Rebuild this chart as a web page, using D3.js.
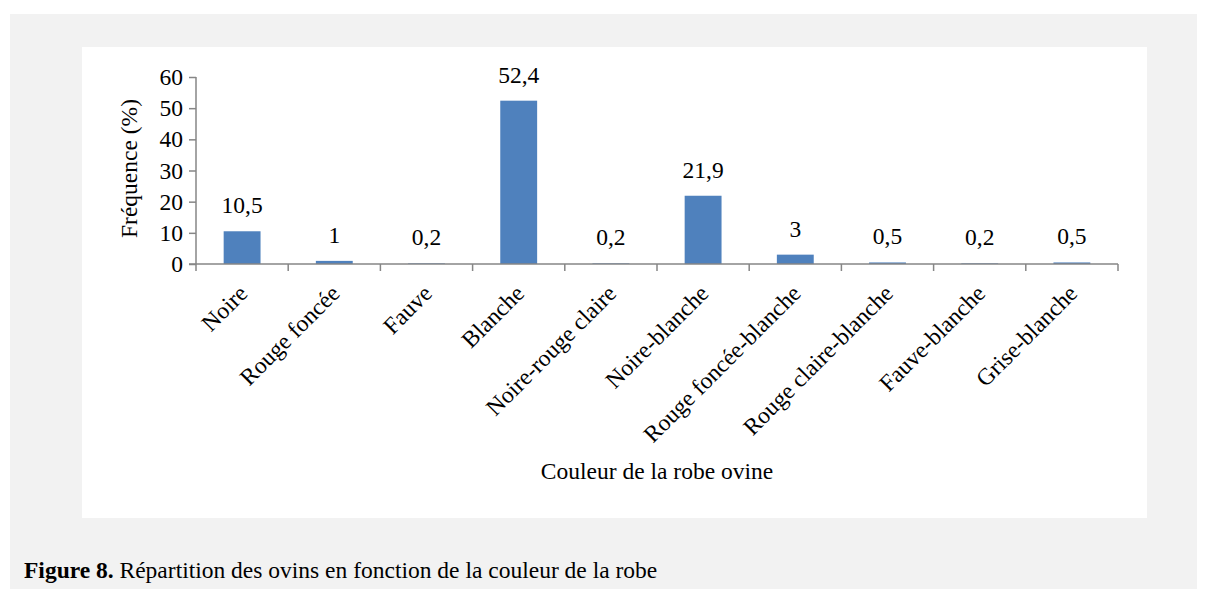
<!DOCTYPE html>
<html>
<head>
<meta charset="utf-8">
<script src="https://cdn.jsdelivr.net/npm/d3@7"></script>
<style>
  body { margin: 0; background: #fff; }
  svg { display: block; }
</style>
</head>
<body>
<script>
const categories = ["Noire", "Rouge foncée", "Fauve", "Blanche", "Noire-rouge claire",
  "Noire-blanche", "Rouge foncée-blanche", "Rouge claire-blanche", "Fauve-blanche", "Grise-blanche"];
const values = [10.5, 1, 0.2, 52.4, 0.2, 21.9, 3, 0.5, 0.2, 0.5];
const yTicks = [0, 10, 20, 30, 40, 50, 60];

const W = 1209, H = 589;
const plot = { left: 196, right: 1118, top: 77, bottom: 264 };
const font = "'Liberation Serif', 'Times New Roman', serif";
const fs = "23.5px";
const axisColor = "#868686";

const svg = d3.select("body").append("svg").attr("width", W).attr("height", H);

// backgrounds
svg.append("rect").attr("x", 10).attr("y", 14).attr("width", 1187).attr("height", 575).attr("fill", "#f2f2f2");
svg.append("rect").attr("x", 82).attr("y", 47).attr("width", 1065).attr("height", 471).attr("fill", "#fff");

const x = d3.scaleBand().domain(categories).range([plot.left, plot.right]).paddingInner(0.6).paddingOuter(0.3);
const xEdges = d3.scaleLinear().domain([0, categories.length]).range([plot.left, plot.right]);
const y = d3.scaleLinear().domain([0, 60]).range([plot.bottom, plot.top]);

const g = svg.append("g");

// bars
g.selectAll("rect.bar")
  .data(values)
  .enter()
  .append("rect")
  .attr("class", "bar")
  .attr("x", (d, i) => x(categories[i]))
  .attr("width", x.bandwidth())
  .attr("y", (d) => y(d))
  .attr("height", (d) => y(0) - y(d))
  .attr("fill", "#4f81bd");

// value labels
g.selectAll("text.val")
  .data(values)
  .enter()
  .append("text")
  .attr("x", (d, i) => x(categories[i]) + x.bandwidth() / 2)
  .attr("y", (d) => y(d) - 18)
  .attr("text-anchor", "middle")
  .attr("font-family", font)
  .attr("font-size", fs)
  .attr("fill", "#000")
  .text((d) => String(d).replace(".", ","));

// y axis
const yAxis = d3.axisLeft(y).tickValues(yTicks).tickSize(7).tickPadding(6);
const yg = svg.append("g").attr("transform", `translate(${plot.left},0)`).call(yAxis);
yg.select(".domain").attr("stroke", axisColor).attr("stroke-width", 1.5).attr("d", `M0,${plot.top}V${plot.bottom}`);
yg.selectAll(".tick line").attr("stroke", axisColor).attr("stroke-width", 1.5);
yg.selectAll(".tick text").attr("font-family", font).attr("font-size", fs).attr("fill", "#000");

// x axis
const xg = svg.append("g");
xg.append("line")
  .attr("x1", plot.left - 7).attr("x2", plot.right)
  .attr("y1", plot.bottom).attr("y2", plot.bottom)
  .attr("stroke", axisColor).attr("stroke-width", 1.5);
xg.selectAll("line.tk")
  .data(d3.range(categories.length + 1))
  .enter()
  .append("line")
  .attr("x1", (d) => xEdges(d)).attr("x2", (d) => xEdges(d))
  .attr("y1", plot.bottom).attr("y2", plot.bottom + 7)
  .attr("stroke", axisColor).attr("stroke-width", 1.5);

xg.selectAll("text.cat")
  .data(categories)
  .enter()
  .append("text")
  .attr("transform", (d) => `translate(${x(d) + x.bandwidth() / 2 + 1},${plot.bottom + 25}) rotate(-45)`)
  .attr("text-anchor", "end")
  .attr("dy", "0.35em")
  .attr("font-family", font)
  .attr("font-size", fs)
  .attr("fill", "#000")
  .text((d) => d);

// axis titles
svg.append("text")
  .attr("transform", `translate(137,${(plot.top + plot.bottom) / 2 - 2}) rotate(-90)`)
  .attr("text-anchor", "middle")
  .attr("font-family", font)
  .attr("font-size", fs)
  .text("Fréquence (%)");

svg.append("text")
  .attr("x", 657)
  .attr("y", 479)
  .attr("text-anchor", "middle")
  .attr("font-family", font)
  .attr("font-size", fs)
  .text("Couleur de la robe ovine");

// caption
const cap = svg.append("text")
  .attr("x", 24)
  .attr("y", 578)
  .attr("font-family", font)
  .attr("font-size", "23.5px");
cap.append("tspan").attr("font-weight", "bold").text("Figure 8.");
cap.append("tspan").text(" Répartition des ovins en fonction de la couleur de la robe");
</script>
</body>
</html>
